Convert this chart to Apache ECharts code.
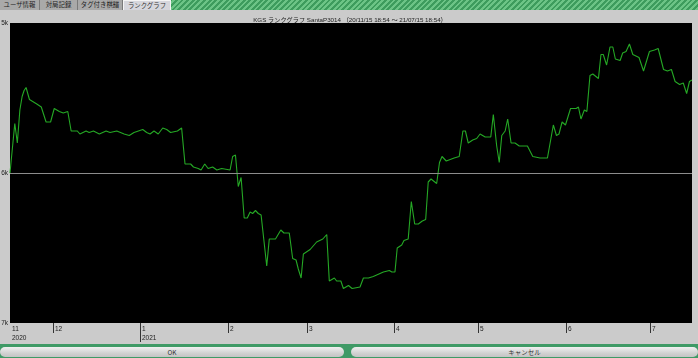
<!DOCTYPE html>
<html>
<head>
<meta charset="utf-8">
<script src="https://cdn.jsdelivr.net/npm/echarts@6/dist/echarts.min.js"></script>
<style>
  html,body{margin:0;padding:0;}
  body{width:698px;height:358px;overflow:hidden;position:relative;background:#cbcbcb;
       font-family:"Liberation Sans","Noto Sans CJK JP",sans-serif;}
  #stripes{position:absolute;left:0;top:0;width:698px;height:10px;
       background:repeating-linear-gradient(135deg,#3d9c5d 0px,#3d9c5d 2px,#6cc486 2px,#6cc486 4px);}
  .tab{position:absolute;top:0;height:10px;line-height:10px;font-size:6.4px;color:#222;
       background:#a9a9a9;border-right:1px solid #7a7a7a;box-sizing:border-box;text-align:center;
       font-family:"Noto Sans CJK JP",sans-serif;white-space:nowrap;overflow:hidden;}
  .tab.sel{background:#d6d6dc;border:1px solid #f4f4f4;border-bottom:none;color:#333;}
  #band{position:absolute;left:0;top:344px;width:698px;height:14px;background:#3f9a66;}
  .btn{position:absolute;top:347px;height:10px;line-height:10px;font-size:6.5px;color:#333;text-align:center;
       background:linear-gradient(#f0f0f0,#d2d2d2 60%,#c4c4c4);border-radius:5px;
       font-family:"Noto Sans CJK JP",sans-serif;}
  #chart{position:absolute;left:0;top:0;width:698px;height:358px;}
</style>
</head>
<body>
<div id="stripes"></div>
<div class="tab" style="left:0;width:40px;">ユーザ情報</div>
<div class="tab" style="left:40px;width:38px;">対局記録</div>
<div class="tab" style="left:78px;width:45px;">タグ付き棋譜</div>
<div class="tab sel" style="left:123px;width:48px;">ランクグラフ</div>
<div id="band"></div>
<div class="btn" style="left:0;width:344px;">OK</div>
<div class="btn" style="left:351px;width:347px;">キャンセル</div>
<div id="chart"></div>
<script>
// ---- data ----
const titleText = 'KGS ランクグラフ SantaP3014 （20/11/15 18:54 ～ 21/07/15 18:54）';
const startTime = '2020-11-15 18:54';
const endTime = '2021-07-15 18:54';
// days elapsed since startTime for each game result
const dayOffsets = [
  0, 1.7, 2.6, 3.5, 4.3, 5.0, 5.7, 6.9, 9.5, 11.1, 12.8, 14.4, 15.7, 17.5, 18.9, 20.5,
  21.7, 23.9, 24.8, 27.0, 28.1, 29.6, 31.7, 34.1, 35.5, 37.9, 40.5, 42.3, 44.0, 47.1,
  48.5, 49.7, 51.1, 52.6, 54.2, 55.6, 57.0, 59.4, 60.9, 62.1, 64.1, 65.1, 66.8, 67.8,
  69.1, 70.3, 71.9, 73.4, 75.1, 78.1, 79.0, 80.0, 81.0, 82.0, 83.1, 84.2, 85.2, 86.1,
  87.1, 88.1, 89.1, 91.1, 92.0, 93.4, 94.2, 96.1, 97.2, 99.1, 100.3, 101.5, 102.3, 103.3,
  104.1, 106.5, 108.8, 111.0, 112.4, 113.3, 115.1, 115.9, 117.4, 118.3, 120.1, 121.4,
  124.2, 125.4, 127.2, 128.9, 131.3, 132.5, 134.6, 135.5, 136.6, 137.4, 139.0, 139.8,
  141.3, 142.4, 143.6, 144.9, 146.3, 147.5, 148.4, 149.4, 151.4, 152.4, 153.3, 154.8,
  155.5, 157.6, 159.4, 160.7, 161.6, 162.6, 164.2, 165.6, 166.8, 168.6, 170.6, 171.5,
  172.7, 173.6, 174.5, 175.7, 176.6, 177.8, 179.2, 180.7, 183.6, 185.5, 188.1, 190.7,
  192.8, 193.9, 194.8, 195.9, 197.1, 198.9, 200.9, 201.7, 202.6, 203.8, 204.7, 205.8,
  206.8, 208.8, 209.7, 210.5, 211.7, 212.9, 213.9, 214.8, 216.5, 217.4, 218.6, 219.8,
  221.0, 223.2, 224.8, 226.9, 228.7, 230.0, 231.9, 233.3, 234.7, 236.0, 237.6, 238.9,
  240.1, 241.1, 242.0
];
// rank in kyu (5 = 5k, 6 = 6k, 7 = 7k)
const ranks = [
  6.00, 5.67, 5.80, 5.58, 5.49, 5.45, 5.43, 5.51, 5.54, 5.56, 5.66, 5.66, 5.57, 5.59, 5.60, 5.59,
  5.72, 5.72, 5.74, 5.72, 5.73, 5.72, 5.74, 5.72, 5.73, 5.72, 5.74, 5.75, 5.73, 5.71,
  5.73, 5.74, 5.72, 5.74, 5.70, 5.71, 5.73, 5.72, 5.70, 5.94, 5.94, 5.96, 5.97, 5.98,
  5.94, 5.97, 5.96, 5.98, 5.97, 5.98, 5.89, 5.88, 6.09, 6.03, 6.30, 6.30, 6.26, 6.27,
  6.25, 6.27, 6.28, 6.62, 6.44, 6.44, 6.44, 6.38, 6.40, 6.40, 6.57, 6.58, 6.64, 6.70,
  6.54, 6.51, 6.46, 6.44, 6.41, 6.72, 6.70, 6.72, 6.72, 6.77, 6.75, 6.77,
  6.76, 6.70, 6.70, 6.69, 6.67, 6.66, 6.65, 6.66, 6.66, 6.50, 6.48, 6.45,
  6.44, 6.19, 6.34, 6.34, 6.32, 6.31, 6.06, 6.04, 6.07, 5.93, 5.89, 5.92,
  5.93, 5.90, 5.89, 5.72, 5.72, 5.80, 5.78, 5.77, 5.74, 5.76, 5.76, 5.61,
  5.82, 5.93, 5.75, 5.72, 5.64, 5.80, 5.80, 5.82, 5.82, 5.89, 5.90, 5.90,
  5.68, 5.75, 5.74, 5.66, 5.68, 5.57, 5.57, 5.56, 5.64, 5.58, 5.59, 5.35,
  5.34, 5.37, 5.21, 5.21, 5.28, 5.16, 5.16, 5.24, 5.25, 5.20, 5.19, 5.14,
  5.21, 5.23, 5.32, 5.19, 5.18, 5.17, 5.31, 5.32, 5.31, 5.39, 5.41, 5.40,
  5.47, 5.39, 5.38
];
const rankTicks = [5, 6, 7];
const rankTickLabels = ['5k', '6k', '7k'];
const monthTickTimes = ['2020-11-15 18:54', '2020-12-01 00:00', '2021-01-01 00:00', '2021-02-01 00:00',
  '2021-03-01 00:00', '2021-04-01 00:00', '2021-05-01 00:00', '2021-06-01 00:00', '2021-07-01 00:00'];
const monthTickLabels = ['11', '12', '1', '2', '3', '4', '5', '6', '7'];
const yearTickLabels = ['2020', '', '2021', '', '', '', '', '', ''];
const midLineRank = 6;

// ---- helpers ----
function toTs(s) {
  const m = s.match(/(\d+)-(\d+)-(\d+) (\d+):(\d+)/);
  return new Date(+m[1], +m[2] - 1, +m[3], +m[4], +m[5]).getTime();
}
const t0 = toTs(startTime), t1 = toTs(endTime);
const DAY = 86400000;
const lineData = dayOffsets.map((d, i) => [t0 + d * DAY, ranks[i]]);
const tickData = monthTickTimes.map((s, i) => [toTs(s), i]);

const FONT = '"Liberation Sans","Noto Sans CJK JP",sans-serif';
const chart = echarts.init(document.getElementById('chart'), null, {renderer: 'canvas'});
chart.setOption({
  animation: false,
  backgroundColor: 'transparent',
  title: {
    text: titleText, left: 345, top: 12, textAlign: 'center',
    textStyle: {fontSize: 6.2, fontWeight: 'normal', color: '#222', fontFamily: FONT}
  },
  grid: {left: 10, right: 6, top: 23, bottom: 35, show: true, backgroundColor: '#000', borderWidth: 0,
         containLabel: false, outerBoundsMode: 'none'},
  xAxis: {
    type: 'time', min: t0, max: t1,
    axisLine: {show: false}, axisTick: {show: false}, axisLabel: {show: false}, splitLine: {show: false}
  },
  yAxis: {
    type: 'value', inverse: true, min: 5, max: 7, interval: 1,
    axisLine: {show: false}, axisTick: {show: false}, splitLine: {show: false},
    axisLabel: {
      margin: 2, fontSize: 6.5, color: '#222', fontFamily: FONT,
      formatter: v => rankTickLabels[rankTicks.indexOf(v)] || ''
    }
  },
  series: [
    {
      type: 'line', data: lineData, showSymbol: false, symbol: 'none',
      lineStyle: {color: '#25a825', width: 1.1},
      markLine: {
        silent: true, symbol: 'none', label: {show: false},
        lineStyle: {color: '#8c8c8c', type: 'solid', width: 1},
        data: [{yAxis: midLineRank}]
      },
      z: 3
    },
    {
      type: 'custom', data: tickData, clip: false, silent: true,
      renderItem: function (params, api) {
        const idx = api.value(1);
        const p = api.coord([api.value(0), 7]);
        const x = Math.round(p[0]) + 0.5, y = p[1];
        const hasYear = yearTickLabels[idx] !== '';
        const children = [];
        if (idx > 0) {
          children.push({type: 'line', shape: {x1: x, y1: y, x2: x, y2: y + (hasYear ? 19 : 10)},
            style: {stroke: '#333', lineWidth: 1}});
        }
        children.push({type: 'text', x: x + 1.5, y: y + 3,
          style: {text: monthTickLabels[idx], fontSize: 6.5, fill: '#222', fontFamily: FONT, textBaseline: 'top'}});
        if (hasYear) {
          children.push({type: 'text', x: x + 1.5, y: y + 12,
            style: {text: yearTickLabels[idx], fontSize: 6.5, fill: '#222', fontFamily: FONT, textBaseline: 'top'}});
        }
        return {type: 'group', children: children};
      }
    }
  ]
});
</script>
</body>
</html>
